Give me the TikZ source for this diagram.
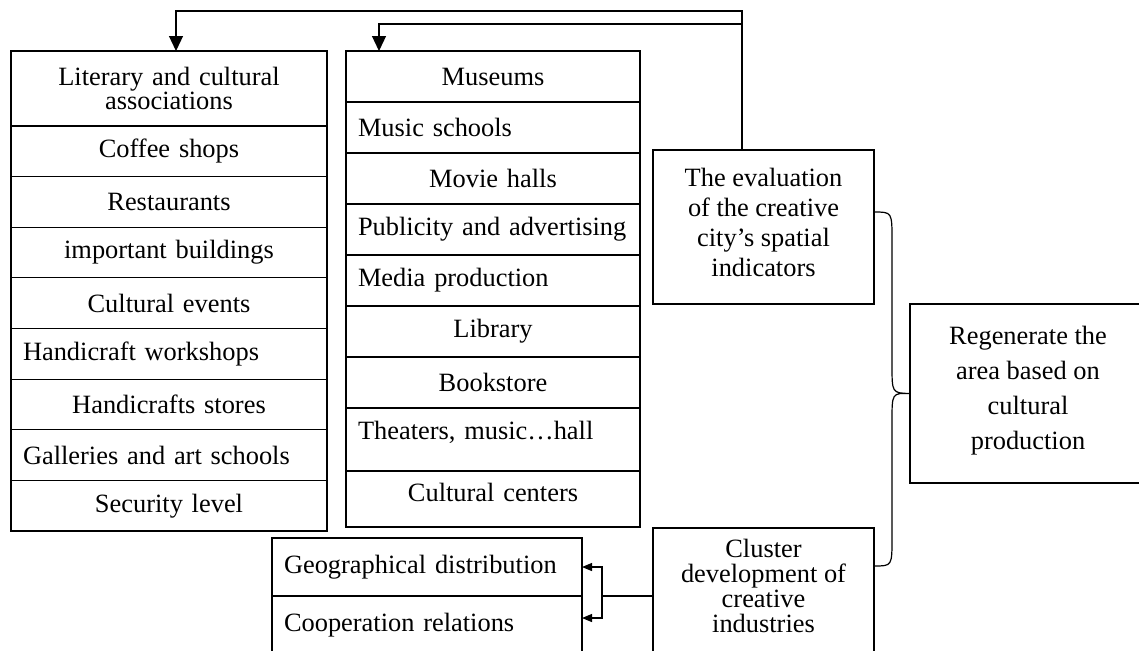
\documentclass[tikz,border=0pt]{standalone}
\usepackage{fontspec}
\setmainfont{Liberation Serif}
\usetikzlibrary{arrows.meta, positioning}
\tikzstyle{cell} = [draw, line width=0.6pt, outer sep=0pt, inner xsep=6pt, inner ysep=0pt, align=center, font=\fontsize{13.2pt}{12pt}\selectfont]
\tikzstyle{lcell} = [cell, text width=146pt, minimum height=25.3125pt]
\tikzstyle{mcell} = [cell, text width=135pt, minimum height=25.5pt]
\tikzstyle{bcell} = [cell, text width=143pt, minimum height=29pt, align=left]
\tikzstyle{textbox} = [draw, line width=0.6pt, outer sep=0pt, inner sep=0pt, align=center, anchor=north west, minimum width=110.5pt]
\tikzstyle{toparrow} = [line width=0.6pt, -{Triangle[length=7.5pt, width=7pt]}]
\tikzstyle{smallarrow} = [line width=0.6pt, -{Triangle[length=5pt, width=4pt]}]

\begin{document}
\begin{tikzpicture}[x=0.5pt, y=-0.5pt]
\useasboundingbox (0,0) rectangle (1139,650);

% First column
\node (literary) [lcell, minimum height=37.5pt, anchor=north west] at (11,51) {Literary and cultural\\associations};
\node (coffee) [lcell, below=0pt of literary] {Coffee shops};
\node (restaurants) [lcell, below=0pt of coffee] {Restaurants};
\node (buildings) [lcell, below=0pt of restaurants] {important buildings};
\node (events) [lcell, below=0pt of buildings] {Cultural events};
\node (workshops) [lcell, below=0pt of events, align=left] {Handicraft workshops};
\node (stores) [lcell, below=0pt of workshops] {Handicrafts stores};
\node (galleries) [lcell, below=0pt of stores, align=left] {Galleries and art schools};
\node (security) [lcell, below=0pt of galleries] {Security level};

% Second column
\node (museums) [mcell, anchor=north west] at (346,51) {Museums};
\node (music) [mcell, below=0pt of museums, align=left] {Music schools};
\node (movie) [mcell, below=0pt of music] {Movie halls};
\node (publicity) [mcell, below=0pt of movie, align=left] {Publicity and advertising};
\node (media) [mcell, below=0pt of publicity, align=left] {Media production};
\node (library) [mcell, below=0pt of media] {Library};
\node (bookstore) [mcell, below=0pt of library] {Bookstore};
\node (theaters) [mcell, below=0pt of bookstore, minimum height=31.5pt, align=left] {Theaters, music…hall\\[-2.5pt]\mbox{}};
\node (centers) [mcell, below=0pt of theaters, minimum height=28pt] {Cultural centers\\[-5pt]\mbox{}};

% Bottom list
\node (geo) [bcell, anchor=north west] at (272,538) {Geographical distribution};
\node (coop) [bcell, below=0pt of geo] {Cooperation relations};

% Right boxes
\node (eval) [textbox, minimum height=77pt, font=\fontsize{13.2pt}{15pt}\selectfont] at (653,150) {The evaluation\\of the creative\\city's spatial\\indicators\\[-10pt]\mbox{}};
\node (regen) [textbox, minimum width=118pt, minimum height=89.5pt, font=\fontsize{13.2pt}{17.5pt}\selectfont] at (910,304) {Regenerate the\\area based on\\cultural\\production\\[-11.5pt]\mbox{}};
\node (cluster) [textbox, minimum height=68pt, font=\fontsize{13.2pt}{12.5pt}\selectfont] at (653,528) {Cluster\\development of\\creative\\industries\\[-2.5pt]\mbox{}};

% Connectors
\coordinate (turnA) at (742,11);
\coordinate (dropA) at (176,11);
\coordinate (dropB) at (379,24);
\coordinate (fork) at (602,596);
\draw [toparrow] (eval.north -| turnA) -- (turnA) -- (dropA) -- (literary.north -| dropA);
\draw [toparrow] (turnA |- dropB) -- (dropB) -- (museums.north -| dropB);
\draw [line width=0.6pt] (cluster.west) -- (fork);
\draw [smallarrow] (fork) |- (geo.east);
\draw [smallarrow] (fork) |- ([yshift=3.5pt]coop.east);

% Brace
\draw [line width=0.6pt] ([yshift=7.5pt]eval.east) .. controls (892,212) .. (892,240) -- (892,365)
  .. controls (892,393) .. (regen.west) .. controls (892,393) .. (892,421) -- (892,538)
  .. controls (892,566) .. ([yshift=15pt]cluster.east);

\end{tikzpicture}
\end{document}
